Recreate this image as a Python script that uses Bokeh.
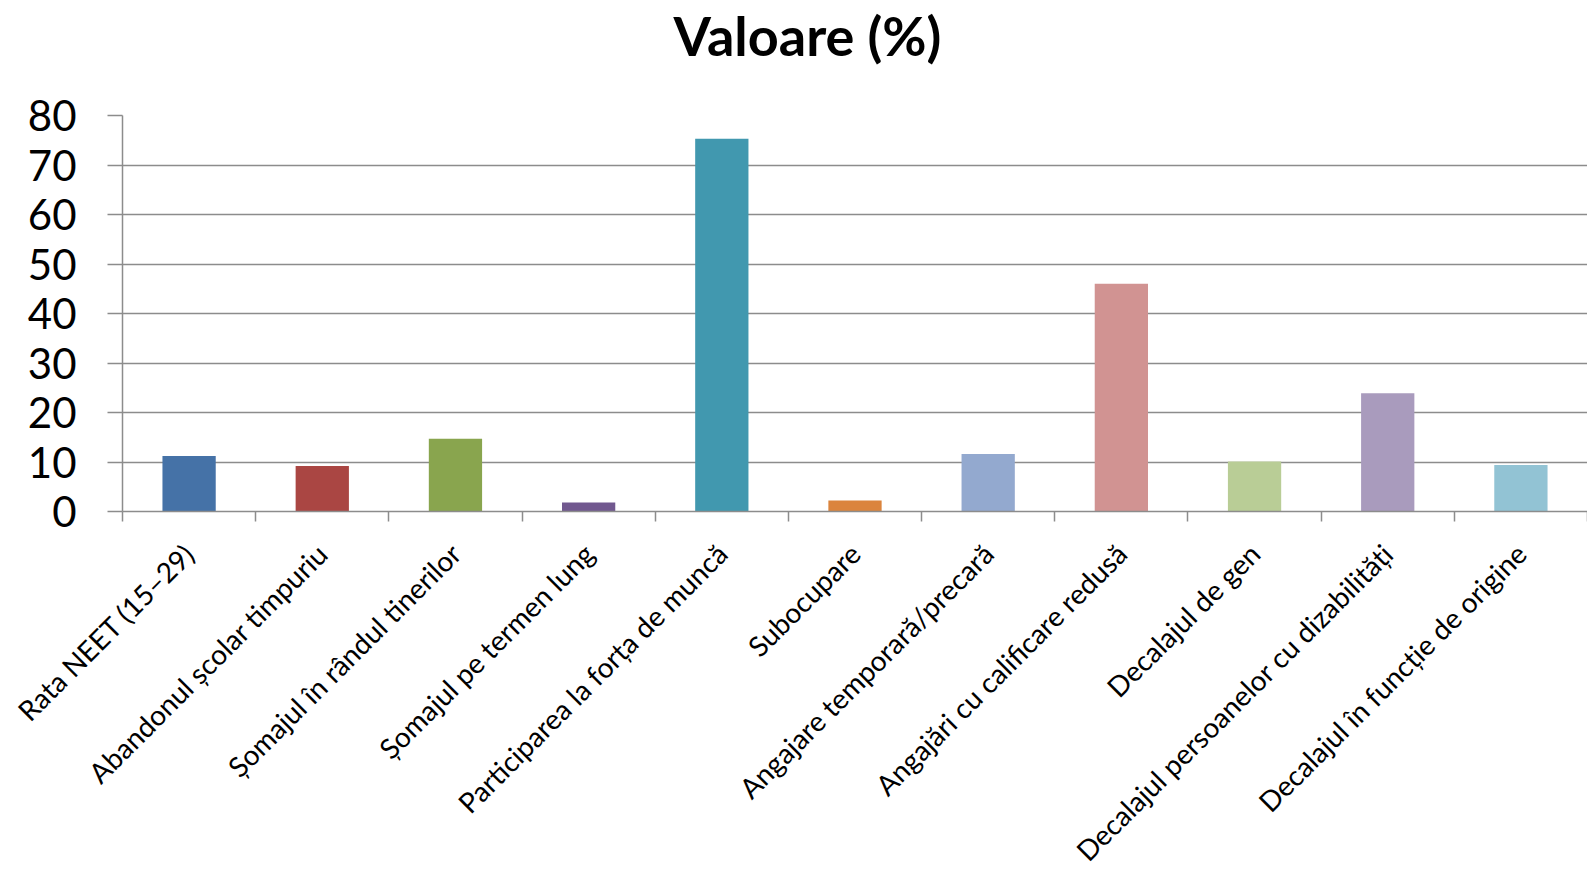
from math import pi
from bokeh.plotting import figure
from bokeh.models import ColumnDataSource, FixedTicker, Range1d, Title
from bokeh.embed import file_html
from bokeh.resources import INLINE

categories = [
    "Rata NEET (15–29)",
    "Abandonul școlar timpuriu",
    "Șomajul în rândul tinerilor",
    "Șomajul pe termen lung",
    "Participarea la forța de muncă",
    "Subocupare",
    "Angajare temporară/precară",
    "Angajări cu calificare redusă",
    "Decalajul de gen",
    "Decalajul persoanelor cu dizabilități",
    "Decalajul în funcție de origine",
]
values = [11.2, 9.2, 14.7, 1.8, 75.3, 2.2, 11.6, 46.0, 10.1, 23.9, 9.4]
colors = ["#4572A7", "#AA4643", "#89A54E", "#71588F", "#4198AF", "#DB843D",
          "#93A9CF", "#D19392", "#B9CD96", "#A99BBD", "#92C3D4"]
y_ticks = [0, 10, 20, 30, 40, 50, 60, 70, 80]
title_text = "Valoare (%)"

n = len(categories)
xs = [i + 0.5 for i in range(n)]
src = ColumnDataSource(dict(x=xs, top=values, color=colors, name=categories))

FONT = "Lato"
GRID = "#8c8c8c"

p = figure(width=1587, height=882, output_backend="svg", toolbar_location=None,
           x_range=Range1d(0, n), y_range=Range1d(0, 80),
           min_border_left=122, min_border_right=0, min_border_top=114,
           min_border_bottom=0, title=None)
p.outline_line_color = None
p.background_fill_color = "white"
p.border_fill_color = "white"

main_title = Title(text=title_text, align="left", offset=551, vertical_align="bottom",
                   text_font=FONT, text_font_size="54px", text_font_style="bold",
                   text_color="black", standoff=0,
                   padding=dict(left=0, right=0, top=0, bottom=48))
p.add_layout(main_title, "above")

p.vbar(x="x", top="top", width=0.4, bottom=0, color="color", line_color=None, source=src)

# y axis
p.yaxis.ticker = FixedTicker(ticks=y_ticks)
p.yaxis.major_label_text_font = FONT
p.yaxis.major_label_text_font_size = "42px"
p.yaxis.major_label_text_color = "black"
p.yaxis.major_tick_out = 15
p.yaxis.major_tick_in = 0
p.yaxis.minor_tick_line_color = None
p.yaxis.major_tick_line_color = GRID
p.yaxis.major_tick_line_width = 1.5
p.yaxis.axis_line_color = GRID
p.yaxis.axis_line_width = 1.5
p.yaxis.major_label_standoff = 31

# x axis (bottom)
xaxis = p.below[0]
xaxis.ticker = FixedTicker(ticks=xs, minor_ticks=list(range(n + 1)))
xaxis.major_label_overrides = {x: c for x, c in zip(xs, categories)}
xaxis.major_label_orientation = pi / 4
xaxis.major_label_text_font = FONT
xaxis.major_label_text_font_size = "28px"
xaxis.major_label_text_color = "black"
xaxis.major_tick_line_color = None
xaxis.major_tick_out = 10
xaxis.major_tick_in = 0
xaxis.minor_tick_out = 10
xaxis.minor_tick_in = 0
xaxis.minor_tick_line_color = GRID
xaxis.minor_tick_line_width = 1.5
xaxis.axis_line_color = GRID
xaxis.axis_line_width = 1.5
xaxis.major_label_standoff = 27

p.xgrid.grid_line_color = None
p.ygrid.ticker = FixedTicker(ticks=y_ticks)
p.ygrid.grid_line_color = GRID
p.ygrid.grid_line_width = 1.5

open("out.html", "w").write(file_html(p, INLINE))
